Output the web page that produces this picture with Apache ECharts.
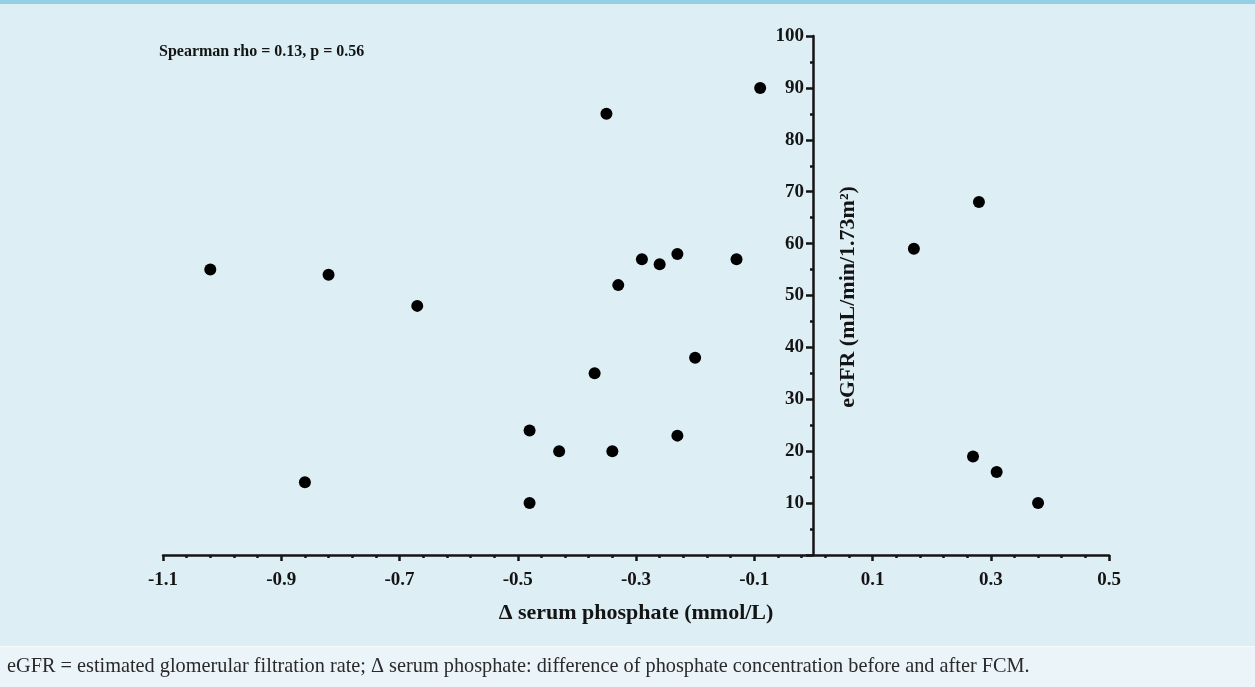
<!DOCTYPE html>
<html>
<head>
<meta charset="utf-8">
<script src="https://cdn.jsdelivr.net/npm/echarts@6/dist/echarts.min.js"></script>
<style>
  html, body { margin: 0; padding: 0; }
  #chart { width: 1255px; height: 687px; }
</style>
</head>
<body>
<div id="chart"></div>
<script>
// change in serum phosphate (mmol/L)
const deltaPhosphate = [-1.02, -0.86, -0.82, -0.67, -0.48, -0.48, -0.43, -0.37, -0.35, -0.34, -0.33, -0.29,
  -0.26, -0.23, -0.23, -0.20, -0.13, -0.09, 0.17, 0.27, 0.28, 0.31, 0.38];
// eGFR (mL/min/1.73m2)
const egfr = [55, 14, 54, 48, 24, 10, 20, 35, 85, 20, 52, 57,
  56, 58, 23, 38, 57, 90, 59, 19, 68, 16, 10];

const statText = "Spearman rho = 0.13, p = 0.56";
const xName = "\u0394 serum phosphate (mmol/L)";
const yName = "eGFR (mL/min/1.73m\u00b2)";
const caption = "eGFR = estimated glomerular filtration rate; \u0394 serum phosphate: difference of phosphate concentration before and after FCM.";

const serif = "'Liberation Serif', 'Times New Roman', serif";
const ink = "#141414";

const points = deltaPhosphate.map((x, i) => [x, egfr[i]]);

const option = {
  backgroundColor: "#ddeef5",
  animation: false,
  title: {
    text: statText,
    left: 159,
    top: 44,
    padding: 0,
    textStyle: { fontFamily: serif, fontSize: 16, fontWeight: "bold", color: ink }
  },
  grid: { left: 163, right: 146, top: 36, bottom: 132 },
  xAxis: {
    type: "value",
    min: -1.1,
    max: 0.5,
    interval: 0.2,
    name: xName,
    nameLocation: "middle",
    nameGap: 47,
    nameTextStyle: { fontFamily: serif, fontSize: 22, fontWeight: "bold", color: ink },
    splitLine: { show: false },
    axisLine: { onZero: false, lineStyle: { color: ink, width: 2.5 } },
    axisTick: { length: 6, lineStyle: { color: ink, width: 2.5 } },
    minorTick: { show: true, splitNumber: 5, length: 3, lineStyle: { color: ink, width: 2.5 } },
    axisLabel: { margin: 16, fontFamily: serif, fontSize: 19, fontWeight: "bold", color: ink }
  },
  yAxis: {
    type: "value",
    min: 0,
    max: 100,
    interval: 10,
    // sits at x = 0 of the phosphate axis
    offset: -650,
    splitLine: { show: false },
    axisLine: { onZero: false, lineStyle: { color: ink, width: 2.5 } },
    axisTick: { length: 7, lineStyle: { color: ink, width: 2.5 } },
    minorTick: { show: true, splitNumber: 2, length: 3, lineStyle: { color: ink, width: 2.5 } },
    axisLabel: {
      margin: 9,
      fontFamily: serif, fontSize: 19, fontWeight: "bold", color: ink,
      formatter: v => (v === 0 ? "" : String(v))
    }
  },
  graphic: [
    { type: "rect", left: 0, top: 0, shape: { width: 1255, height: 4 }, style: { fill: "#93d0e3" } },
    { type: "rect", left: 0, top: 646, shape: { width: 1255, height: 1 }, style: { fill: "#f4f9fb" } },
    { type: "rect", left: 0, top: 647, shape: { width: 1255, height: 40 }, style: { fill: "#ebf4f8" } },
    {
      // y axis title, to the right of the axis line
      type: "text", x: 848, y: 297, rotation: Math.PI / 2,
      style: {
        text: yName, x: 0, y: 0, align: "center", verticalAlign: "middle",
        font: "bold 22px " + serif, fill: ink
      }
    },
    {
      type: "text", left: 7, top: 657,
      style: { text: caption, font: "20.3px " + serif, fill: "#2a2a2a" }
    }
  ],
  series: [{
    type: "scatter",
    data: points,
    symbolSize: 12,
    itemStyle: { color: "#000", opacity: 1 }
  }]
};

const chart = echarts.init(document.getElementById("chart"));
chart.setOption(option);
</script>
</body>
</html>
